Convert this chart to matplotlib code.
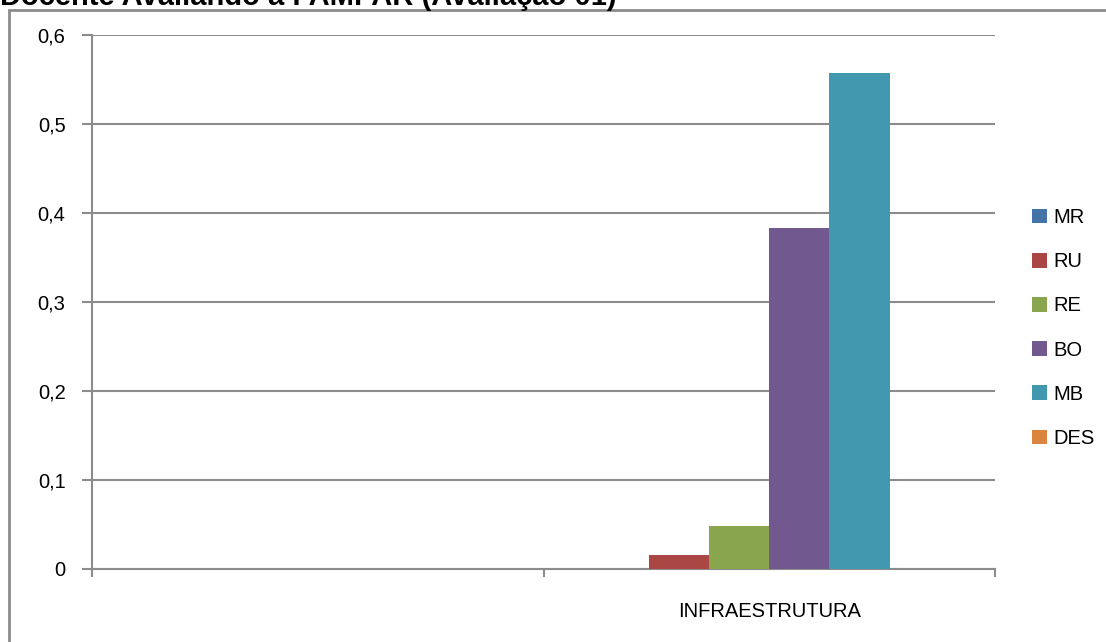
import matplotlib
matplotlib.use('agg')
import matplotlib.pyplot as plt
import numpy as np
from matplotlib.patches import Rectangle

plt.rcParams['font.family'] = ['Liberation Sans', 'DejaVu Sans']

# dados
categorias = ['', 'INFRAESTRUTURA']
series = ['MR', 'RU', 'RE', 'BO', 'MB', 'DES']
valores = {
    'MR':  [0, 0.0],
    'RU':  [0, 0.016],
    'RE':  [0, 0.048],
    'BO':  [0, 0.383],
    'MB':  [0, 0.557],
    'DES': [0, 0.0],
}
cores = ['#4572A7', '#AA4643', '#89A54E', '#71588F', '#4198AF', '#DB843D']
yticks = [0, 0.1, 0.2, 0.3, 0.4, 0.5, 0.6]
ylabels = ['0', '0,1', '0,2', '0,3', '0,4', '0,5', '0,6']

fig = plt.figure(figsize=(11.06, 6.42), dpi=100)
W, H = 1106, 642
ax = fig.add_axes([92 / W, 1 - 569 / H, (995 - 92) / W, (569 - 35) / H])

# moldura externa do grafico
fig.patches.append(Rectangle((9 / W, -0.1), 1.2, 1 - 10 / H + 0.1,
                             transform=fig.transFigure, fill=False,
                             edgecolor='#8c8c8c', linewidth=2, zorder=0))

larg = 0.8 / len(series)
centros = np.arange(len(categorias)) + 0.5
for i, s in enumerate(series):
    x = centros - 0.4 + larg * (i + 0.5)
    ax.bar(x, valores[s], width=larg, color=cores[i], label=s, zorder=3)

fs = 14.5
ax.set_xlim(0, len(categorias))
ax.set_ylim(0, 0.6)
ax.set_yticks(yticks)
ax.set_yticklabels(ylabels, fontsize=fs)
ax.set_xticks(np.arange(len(categorias) + 1))
ax.set_xticklabels([])
ax.set_xticks(centros, minor=True)
ax.set_xticklabels(categorias, minor=True, fontsize=fs)
ax.tick_params(axis='x', which='minor', length=0, pad=24)
ax.tick_params(axis='x', which='major', length=6, color='#8c8c8c', width=1.5)
ax.tick_params(axis='y', length=7, color='#8c8c8c', width=1.5, pad=12)

ax.grid(axis='y', color='#8c8c8c', linewidth=1.5, zorder=0)
for lado in ['top', 'right']:
    ax.spines[lado].set_visible(False)
for lado in ['left', 'bottom']:
    ax.spines[lado].set_color('#8c8c8c')
    ax.spines[lado].set_linewidth(1.5)

ax.legend(loc='upper left', bbox_to_anchor=(1024 / W, 1 - 200 / H),
          bbox_transform=fig.transFigure, frameon=False, fontsize=fs,
          handlelength=0.75, handleheight=0.75, handletextpad=0.3,
          labelspacing=1.25, borderaxespad=0)

fig.text(0, 1 - 5 / H, 'Docente Avaliando a FAMPAR (Avaliação 01)',
         fontsize=21, fontweight='bold', va='baseline', ha='left')

fig.savefig('out.png', dpi=100)
